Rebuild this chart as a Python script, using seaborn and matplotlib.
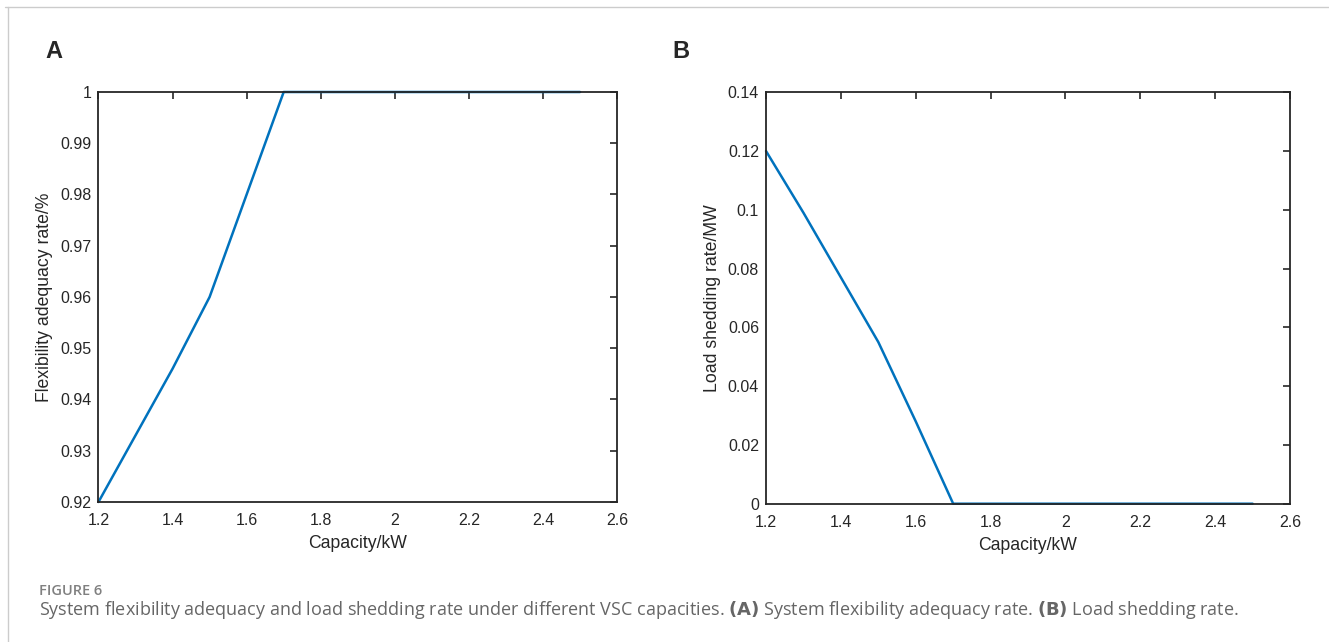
import numpy as np
import pandas as pd
import matplotlib
matplotlib.use("Agg")
import matplotlib.pyplot as plt
import seaborn as sns
from matplotlib.ticker import FuncFormatter

# capacity (kW) and results
capacity = [1.2, 1.3, 1.4, 1.5, 1.6, 1.7, 1.8, 1.9, 2.0, 2.1, 2.2, 2.3, 2.4, 2.5]
adequacy = [0.92, 0.933, 0.946, 0.96, 0.98, 1.0, 1.0, 1.0, 1.0, 1.0, 1.0, 1.0, 1.0, 1.0]
shedding = [0.12, 0.099, 0.077, 0.055, 0.028, 0.0, 0.0, 0.0, 0.0, 0.0, 0.0, 0.0, 0.0, 0.0]

x_ticks = [1.2, 1.4, 1.6, 1.8, 2.0, 2.2, 2.4, 2.6]
yA_ticks = [0.92, 0.93, 0.94, 0.95, 0.96, 0.97, 0.98, 0.99, 1.0]
yB_ticks = [0, 0.02, 0.04, 0.06, 0.08, 0.1, 0.12, 0.14]

df = pd.DataFrame({"capacity": capacity, "adequacy": adequacy, "shedding": shedding})

sns.set_style("white")
plt.rcParams['font.family'] = ['Liberation Sans', 'DejaVu Sans']

fig = plt.figure(figsize=(13.29, 6.42), dpi=100)
axA = fig.add_axes([0.0741, 0.2181, 0.3902, 0.6386])
axB = fig.add_axes([0.5764, 0.2154, 0.3943, 0.6408])

blue = "#0072BD"
fmt = FuncFormatter(lambda v, p: f"{v:g}")

def style(ax, yticks, ylabel, ylim):
    ax.set_xlim(1.2, 2.6)
    ax.set_ylim(*ylim)
    ax.set_xticks(x_ticks)
    ax.set_yticks(yticks)
    ax.xaxis.set_major_formatter(fmt)
    ax.yaxis.set_major_formatter(fmt)
    ax.tick_params(direction="in", top=True, right=True, length=5, width=1.2,
                   labelsize=11.5, labelcolor="#262626", color="#262626")
    ax.tick_params(axis="x", pad=8)
    ax.tick_params(axis="y", pad=5)
    for s in ax.spines.values():
        s.set_color("#262626")
        s.set_linewidth(1.3)
    ax.set_xlabel("Capacity/kW", fontsize=12.7, color="#262626", labelpad=5)
    ax.set_ylabel(ylabel, fontsize=12.7, color="#262626", labelpad=5)

sns.lineplot(data=df, x="capacity", y="adequacy", ax=axA, color=blue, linewidth=1.8)
style(axA, yA_ticks, "Flexibility adequacy rate/%", (0.92, 1.0))

sns.lineplot(data=df, x="capacity", y="shedding", ax=axB, color=blue, linewidth=1.8)
style(axB, yB_ticks, "Load shedding rate/MW", (0, 0.14))

for a in (axA, axB):
    for l in a.lines:
        l.set_clip_on(False)

fig.text(45 / 1329, 1 - 52 / 642, "A", fontsize=17, fontweight="bold", va="center", ha="left")
fig.text(672 / 1329, 1 - 52 / 642, "B", fontsize=17, fontweight="bold", va="center", ha="left")

# frame lines of the page
fig.add_artist(plt.Line2D([5 / 1329, 1], [1 - 7 / 642, 1 - 7 / 642], color="#cccccc", linewidth=1))
fig.add_artist(plt.Line2D([8 / 1329, 8 / 1329], [0, 1 - 7 / 642], color="#cccccc", linewidth=1))

fig.text(39 / 1329, 1 - 591 / 642, "FIGURE 6", fontsize=10.5, color="#808080", fontweight="semibold",
         family=["Open Sans", "DejaVu Sans"], va="center")
fig.text(39 / 1329, 1 - 610 / 642,
         "System flexibility adequacy and load shedding rate under different VSC capacities. "
         r"$\bf{(A)}$ System flexibility adequacy rate. $\bf{(B)}$ Load shedding rate.",
         fontsize=13, color="#666666", family=["Open Sans", "DejaVu Sans"], va="center")

fig.savefig("out.png", dpi=100)
